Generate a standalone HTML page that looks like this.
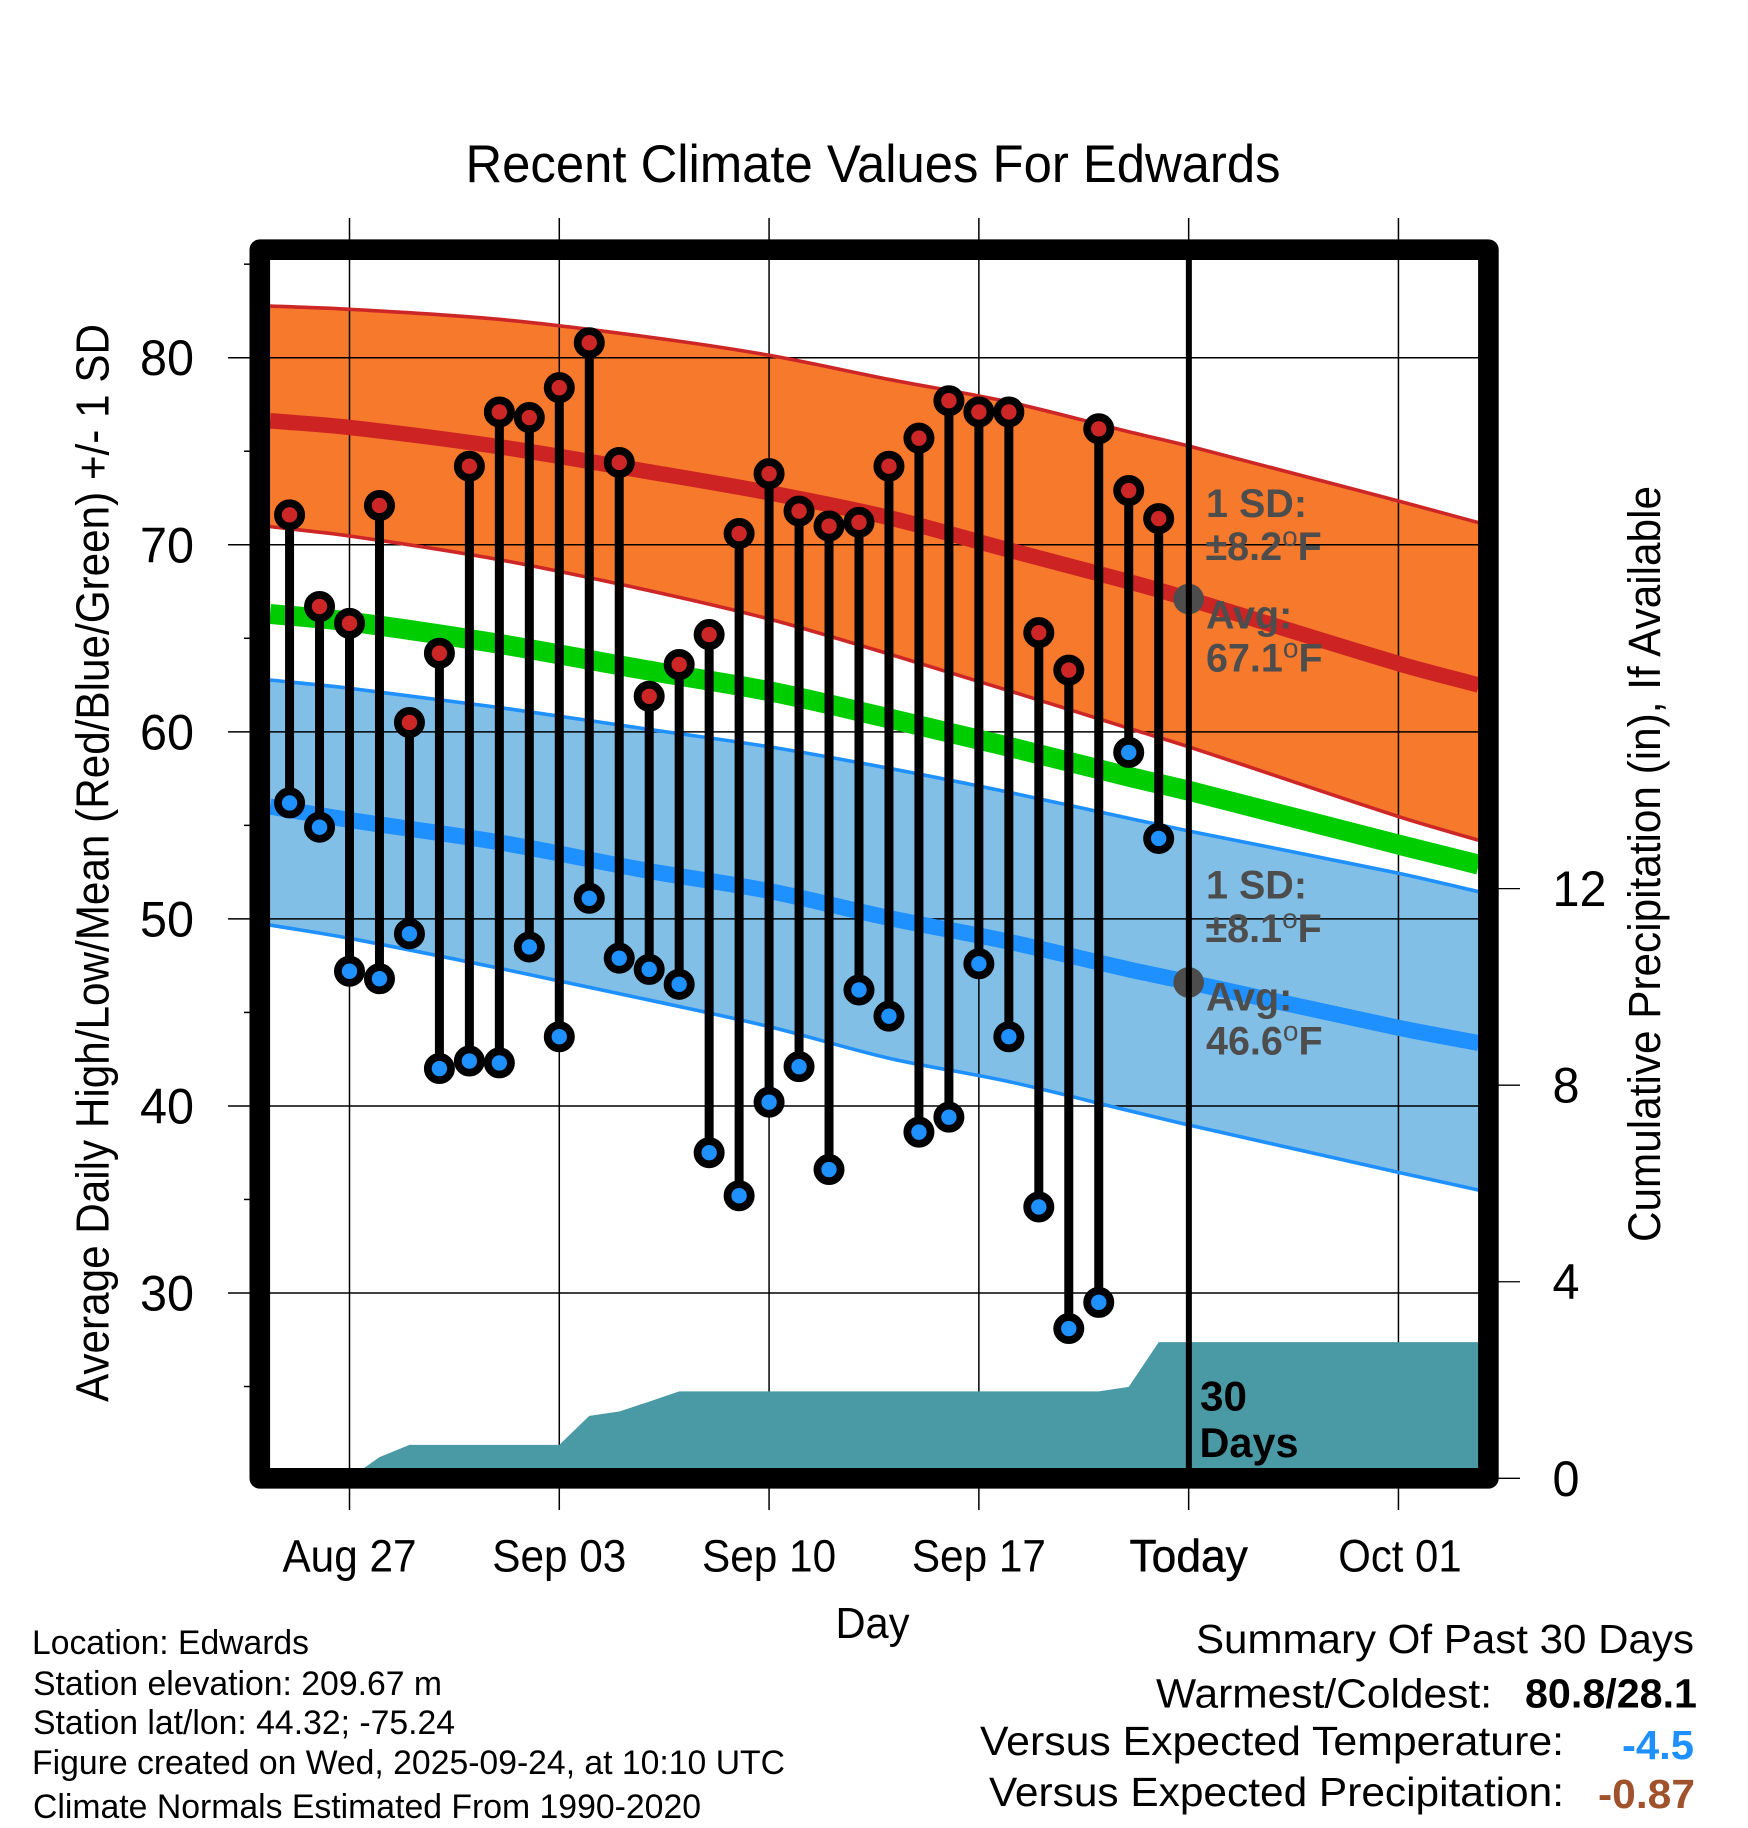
<!DOCTYPE html>
<html lang="en">
<head>
<meta charset="utf-8">
<title>Recent Climate Values For Edwards</title>
<style>
  html, body { margin: 0; padding: 0; background: #fff; }
  svg { display: block; }
  text { font-family: "Liberation Sans", Arial, sans-serif; fill: #000; }
  .ann { font-size: 39.5px; font-weight: bold; fill: #4d4d4d; }
  .deg { font-size: 28px; font-weight: normal; fill: #4d4d4d; }
</style>
</head>
<body>
<svg id="chart" xmlns="http://www.w3.org/2000/svg" width="1748" height="1828" viewBox="0 0 1748 1828">
  <rect x="0" y="0" width="1748" height="1828" fill="#ffffff"/>
  <defs>
    <clipPath id="plot-clip"><rect x="265" y="255" width="1219" height="1218"/></clipPath>
  </defs>
  <g id="fills" clip-path="url(#plot-clip)"></g>
  <g id="grid"></g>
  <g id="lines" clip-path="url(#plot-clip)"></g>
  <g id="precip" clip-path="url(#plot-clip)"></g>
  <rect x="259.8" y="249.7" width="1228.6" height="1228.6" fill="none" stroke="#000" stroke-width="20.6" stroke-linejoin="round"/>
  <g id="marks"></g>
  <g id="today"></g>
  <g id="labels"></g>

  <text x="465.5" y="182" font-size="53" textLength="815" lengthAdjust="spacingAndGlyphs">Recent Climate Values For Edwards</text>
  <text x="835.5" y="1638" font-size="44" textLength="74" lengthAdjust="spacingAndGlyphs">Day</text>
  <text transform="translate(108.3,1402) rotate(-90)" font-size="46" textLength="1078" lengthAdjust="spacingAndGlyphs">Average Daily High/Low/Mean (Red/Blue/Green) +/- 1 SD</text>
  <text transform="translate(1660,1242) rotate(-90)" font-size="45" textLength="756" lengthAdjust="spacingAndGlyphs">Cumulative Precipitation (in), If Available</text>

  <g>
    <text class="ann" x="1206" y="517">1 SD:</text>
    <text class="ann" x="1205.5" y="560">±8.2<tspan class="deg" dy="-14">o</tspan><tspan dy="14">F</tspan></text>
    <text class="ann" x="1206" y="628.3">Avg:</text>
    <text class="ann" x="1206" y="671.7">67.1<tspan class="deg" dy="-14">o</tspan><tspan dy="14">F</tspan></text>
  </g>
  <g>
    <text class="ann" x="1206" y="898.5">1 SD:</text>
    <text class="ann" x="1205.5" y="941.8">±8.1<tspan class="deg" dy="-14">o</tspan><tspan dy="14">F</tspan></text>
    <text class="ann" x="1206" y="1010.6">Avg:</text>
    <text class="ann" x="1206" y="1054.5">46.6<tspan class="deg" dy="-14">o</tspan><tspan dy="14">F</tspan></text>
  </g>
  <text x="1200" y="1410.7" font-size="42" font-weight="bold" textLength="47" lengthAdjust="spacingAndGlyphs">30</text>
  <text x="1199.5" y="1457" font-size="42" font-weight="bold" textLength="99" lengthAdjust="spacingAndGlyphs">Days</text>

  <g>
    <text x="32" y="1654" font-size="34" textLength="277" lengthAdjust="spacingAndGlyphs">Location: Edwards</text>
    <text x="33" y="1695" font-size="34" textLength="409" lengthAdjust="spacingAndGlyphs">Station elevation: 209.67 m</text>
    <text x="33" y="1734" font-size="34" textLength="422" lengthAdjust="spacingAndGlyphs">Station lat/lon: 44.32; -75.24</text>
    <text x="32" y="1774" font-size="34" textLength="753" lengthAdjust="spacingAndGlyphs">Figure created on Wed, 2025-09-24, at 10:10 UTC</text>
    <text x="33" y="1818" font-size="34" textLength="668" lengthAdjust="spacingAndGlyphs">Climate Normals Estimated From 1990-2020</text>
  </g>
  <g>
    <text x="1196" y="1653" font-size="41" textLength="498" lengthAdjust="spacingAndGlyphs">Summary Of Past 30 Days</text>
    <text x="1156" y="1707.5" font-size="41" textLength="336" lengthAdjust="spacingAndGlyphs">Warmest/Coldest:</text>
    <text x="1525" y="1707.5" font-size="41" font-weight="bold" textLength="172" lengthAdjust="spacingAndGlyphs">80.8/28.1</text>
    <text x="980" y="1755" font-size="41" textLength="584" lengthAdjust="spacingAndGlyphs">Versus Expected Temperature:</text>
    <text x="1622" y="1759" font-size="41" font-weight="bold" textLength="72" lengthAdjust="spacingAndGlyphs" style="fill:#1e90ff">-4.5</text>
    <text x="989" y="1806" font-size="41" textLength="575" lengthAdjust="spacingAndGlyphs">Versus Expected Precipitation:</text>
    <text x="1598" y="1808" font-size="41" font-weight="bold" textLength="97" lengthAdjust="spacingAndGlyphs" style="fill:#a0522d">-0.87</text>
  </g>
</svg>
<script>
// ---------- data ----------
const highs = [71.6,66.7,65.8,72.1,60.5,64.2,74.2,77.1,76.8,78.4,80.8,74.4,61.9,63.6,65.2,70.6,73.8,71.8,71.0,71.2,74.2,75.7,77.7,77.1,77.1,65.3,63.3,76.2,72.9,71.4];
const lows = [56.2,54.9,47.2,46.8,49.2,42.0,42.4,42.3,48.5,43.7,51.1,47.9,47.3,46.5,37.5,35.2,40.2,42.1,36.6,46.2,44.8,38.6,39.4,47.6,43.7,34.6,28.1,29.5,58.9,54.3];
const precipitation = [0,0,0,0.43,0.68,0.68,0.68,0.68,0.68,0.68,1.27,1.36,1.56,1.77,1.77,1.77,1.77,1.77,1.77,1.77,1.77,1.77,1.77,1.77,1.77,1.77,1.77,1.77,1.86,2.77];
const precipitationFuture = [2.77,2.77];
const precipitationFutureDays = [30,40];
const normalDays = [-0.65,2,7,12,16,20,24,28,30,37,39.68];
const highUpper = [82.76,82.59,82.05,81.1,80.13,78.84,77.63,76.04,75.28,72.34,71.18];
const highMean = [76.63,76.27,75.24,73.9,72.78,71.45,69.72,68.03,67.1,63.65,62.5];
const highLower = [70.97,70.47,69.2,67.55,66.03,64.16,62.2,60.19,59.2,55.47,54.2];
const dailyMean = [66.3,65.89,64.7,63.27,62.17,60.72,59.2,57.6,56.85,53.97,52.9];
const lowUpper = [62.77,62.33,61.3,60.13,59.2,58.05,56.77,55.38,54.7,52.44,51.45];
const lowMean = [56.0,55.29,54.09,52.56,51.49,50.05,48.78,47.3,46.62,44.18,43.36];
const lowLower = [49.67,48.96,47.36,45.66,44.24,42.55,41.3,39.75,38.98,36.45,35.5];
const xTickDays = [2,9,16,23,30,37];
const xTickLabels = ["Aug 27","Sep 03","Sep 10","Sep 17","Today","Oct 01"];
const yTickValues = [30,40,50,60,70,80];
const yMinorValues = [25,35,45,55,65,75,85];
const precipTickValues = [0,4,8,12];
const todayDay = 30;
const todayHigh = 67.1;
const todayLow = 46.6;

// ---------- axes ----------
function xDay(d) { return 349.5 + (d - 2) * 29.97; }
function yTemp(v) { return 357.7 + (80 - v) * 18.706; }
function yPrecip(p) { return 1478.3 - p * 49.14; }

const NS = "http://www.w3.org/2000/svg";
function make(tag, parent, attrs) {
  const el = document.createElementNS(NS, tag);
  for (const k in attrs) el.setAttribute(k, attrs[k]);
  parent.appendChild(el);
  return el;
}
function pts(days, vals, yFn) {
  return days.map((d, i) => xDay(d).toFixed(2) + "," + yFn(vals[i]).toFixed(2));
}
// smooth Hermite curve through the sampled normals
function curveTangents(X, Y) {
  const n = X.length;
  return X.map(function (_, i) {
    const a = Math.max(0, i - 1), b = Math.min(n - 1, i + 1);
    return (Y[b] - Y[a]) / (X[b] - X[a]);
  });
}
function curveForward(vals) {
  const X = normalDays.map(xDay);
  const Y = vals.map(yTemp);
  const m = curveTangents(X, Y);
  let d = X[0].toFixed(2) + "," + Y[0].toFixed(2);
  for (let i = 0; i < X.length - 1; i++) {
    const h = (X[i + 1] - X[i]) / 3;
    d += " C" + (X[i] + h).toFixed(2) + "," + (Y[i] + m[i] * h).toFixed(2) + " " +
         (X[i + 1] - h).toFixed(2) + "," + (Y[i + 1] - m[i + 1] * h).toFixed(2) + " " +
         X[i + 1].toFixed(2) + "," + Y[i + 1].toFixed(2);
  }
  return d;
}
function curveBack(vals) {
  const X = normalDays.map(xDay);
  const Y = vals.map(yTemp);
  const m = curveTangents(X, Y);
  const n = X.length;
  let d = X[n - 1].toFixed(2) + "," + Y[n - 1].toFixed(2);
  for (let i = n - 1; i > 0; i--) {
    const h = (X[i] - X[i - 1]) / 3;
    d += " C" + (X[i] - h).toFixed(2) + "," + (Y[i] - m[i] * h).toFixed(2) + " " +
         (X[i - 1] + h).toFixed(2) + "," + (Y[i - 1] + m[i - 1] * h).toFixed(2) + " " +
         X[i - 1].toFixed(2) + "," + Y[i - 1].toFixed(2);
  }
  return d;
}
function curvePath(vals) { return "M" + curveForward(vals); }
function bandPath(upper, lower) { return "M" + curveForward(upper) + " L" + curveBack(lower) + " Z"; }
function compress(el, k) {
  const w = el.getComputedTextLength();
  el.setAttribute("textLength", (w * k).toFixed(1));
  el.setAttribute("lengthAdjust", "spacingAndGlyphs");
}

const fills = document.getElementById("fills");
const grid = document.getElementById("grid");
const lines = document.getElementById("lines");
const precipLayer = document.getElementById("precip");
const marks = document.getElementById("marks");
const todayLayer = document.getElementById("today");
const labels = document.getElementById("labels");

// ---------- bands ----------
const highBand = make("path", fills, { d: bandPath(highUpper, highLower), fill: "#f7792c" });


const lowBand = make("path", fills, { d: bandPath(lowUpper, lowLower), fill: "#82bfe7" });



// ---------- grid ----------
xTickDays.forEach(function (d) {
  const gl = make("line", grid, { x1: xDay(d), x2: xDay(d), y1: 218, y2: 1510, stroke: "#000", "stroke-width": 1.5 });
  
  
});
yTickValues.forEach(function (v) {
  const gl = make("line", grid, { x1: 228, x2: 1480, y1: yTemp(v), y2: yTemp(v), stroke: "#000", "stroke-width": 1.5 });
  
  
});
yMinorValues.forEach(function (v) {
  const t = make("line", grid, { x1: 244, x2: 252, y1: yTemp(v), y2: yTemp(v), stroke: "#000", "stroke-width": 1.5 });
  
  
});
precipTickValues.forEach(function (p) {
  const t = make("line", grid, { x1: 1497, x2: 1520, y1: yPrecip(p), y2: yPrecip(p), stroke: "#000", "stroke-width": 1.3 });
  
  
});

// ---------- normal lines ----------
function normalLine(vals, color, width, name) {
  const el = make("path", lines, { d: curvePath(vals), fill: "none", stroke: color, "stroke-width": width });
  
  
}
normalLine(highUpper, "#cd2626", 3.6, "high-upper-line");
normalLine(highLower, "#cd2626", 3.6, "high-lower-line");
normalLine(lowUpper, "#1e90ff", 3.6, "low-upper-line");
normalLine(lowLower, "#1e90ff", 3.6, "low-lower-line");
normalLine(dailyMean, "#00cd00", 20, "daily-mean-line");
normalLine(highMean, "#cd2323", 15.5, "high-mean-line");
normalLine(lowMean, "#1e90ff", 16, "low-mean-line");

// ---------- precipitation ----------
const precipDays = precipitation.map(function (_, i) { return i; }).concat(precipitationFutureDays);
const precipVals = precipitation.concat(precipitationFuture);
const precipPts = pts(precipDays, precipVals, yPrecip);
precipPts.push(xDay(40).toFixed(2) + "," + yPrecip(0));
precipPts.push(xDay(0).toFixed(2) + "," + yPrecip(0));
const precipArea = make("polygon", precipLayer, { points: precipPts.join(" "), fill: "#4a9aa6" });



// ---------- daily observations ----------
highs.forEach(function (h, i) {
  const stem = make("line", marks, { x1: xDay(i), x2: xDay(i), y1: yTemp(h), y2: yTemp(lows[i]), stroke: "#000", "stroke-width": 9 });
  
  
});
lows.forEach(function (l, i) {
  const c = make("circle", marks, { cx: xDay(i), cy: yTemp(l), r: 11.6, fill: "#1e90ff", stroke: "#000", "stroke-width": 7.8 });
  
  
});
highs.forEach(function (h, i) {
  const c = make("circle", marks, { cx: xDay(i), cy: yTemp(h), r: 11.6, fill: "#cd2626", stroke: "#000", "stroke-width": 7.8 });
  
  
});

// ---------- today ----------
const todayHighDot = make("circle", todayLayer, { cx: xDay(todayDay), cy: yTemp(todayHigh), r: 15.3, fill: "#4d4d4d" });


const todayLowDot = make("circle", todayLayer, { cx: xDay(todayDay), cy: yTemp(todayLow), r: 15.3, fill: "#4d4d4d" });


const todayLine = make("line", todayLayer, { x1: xDay(todayDay) + 0.2, x2: xDay(todayDay) + 0.2, y1: 258, y2: 1470, stroke: "#000", "stroke-width": 6 });



// ---------- tick labels ----------
xTickLabels.forEach(function (s, i) {
  const nudge = s === "Oct 01" ? 1.5 : 0;
  const t = make("text", labels, { x: xDay(xTickDays[i]) + nudge, y: 1571.5, "font-size": 45, "text-anchor": "middle" });
  t.textContent = s;
  
  
  compress(t, s === "Today" ? 0.985 : s === "Oct 01" ? 0.93 : 0.94);
  if (s === "Today") { t.setAttribute("stroke", "#000"); t.setAttribute("stroke-width", "0.5"); }
});
yTickValues.forEach(function (v) {
  const t = make("text", labels, { x: 194, y: yTemp(v) + 17.5, "font-size": 50, "text-anchor": "end" });
  t.textContent = String(v);
  
  
  compress(t, 0.97);
});
precipTickValues.forEach(function (p) {
  const t = make("text", labels, { x: 1552.5, y: yPrecip(p) + 17.5, "font-size": 50 });
  t.textContent = String(p);
  
  
  compress(t, 0.97);
});
</script>
</body>
</html>
